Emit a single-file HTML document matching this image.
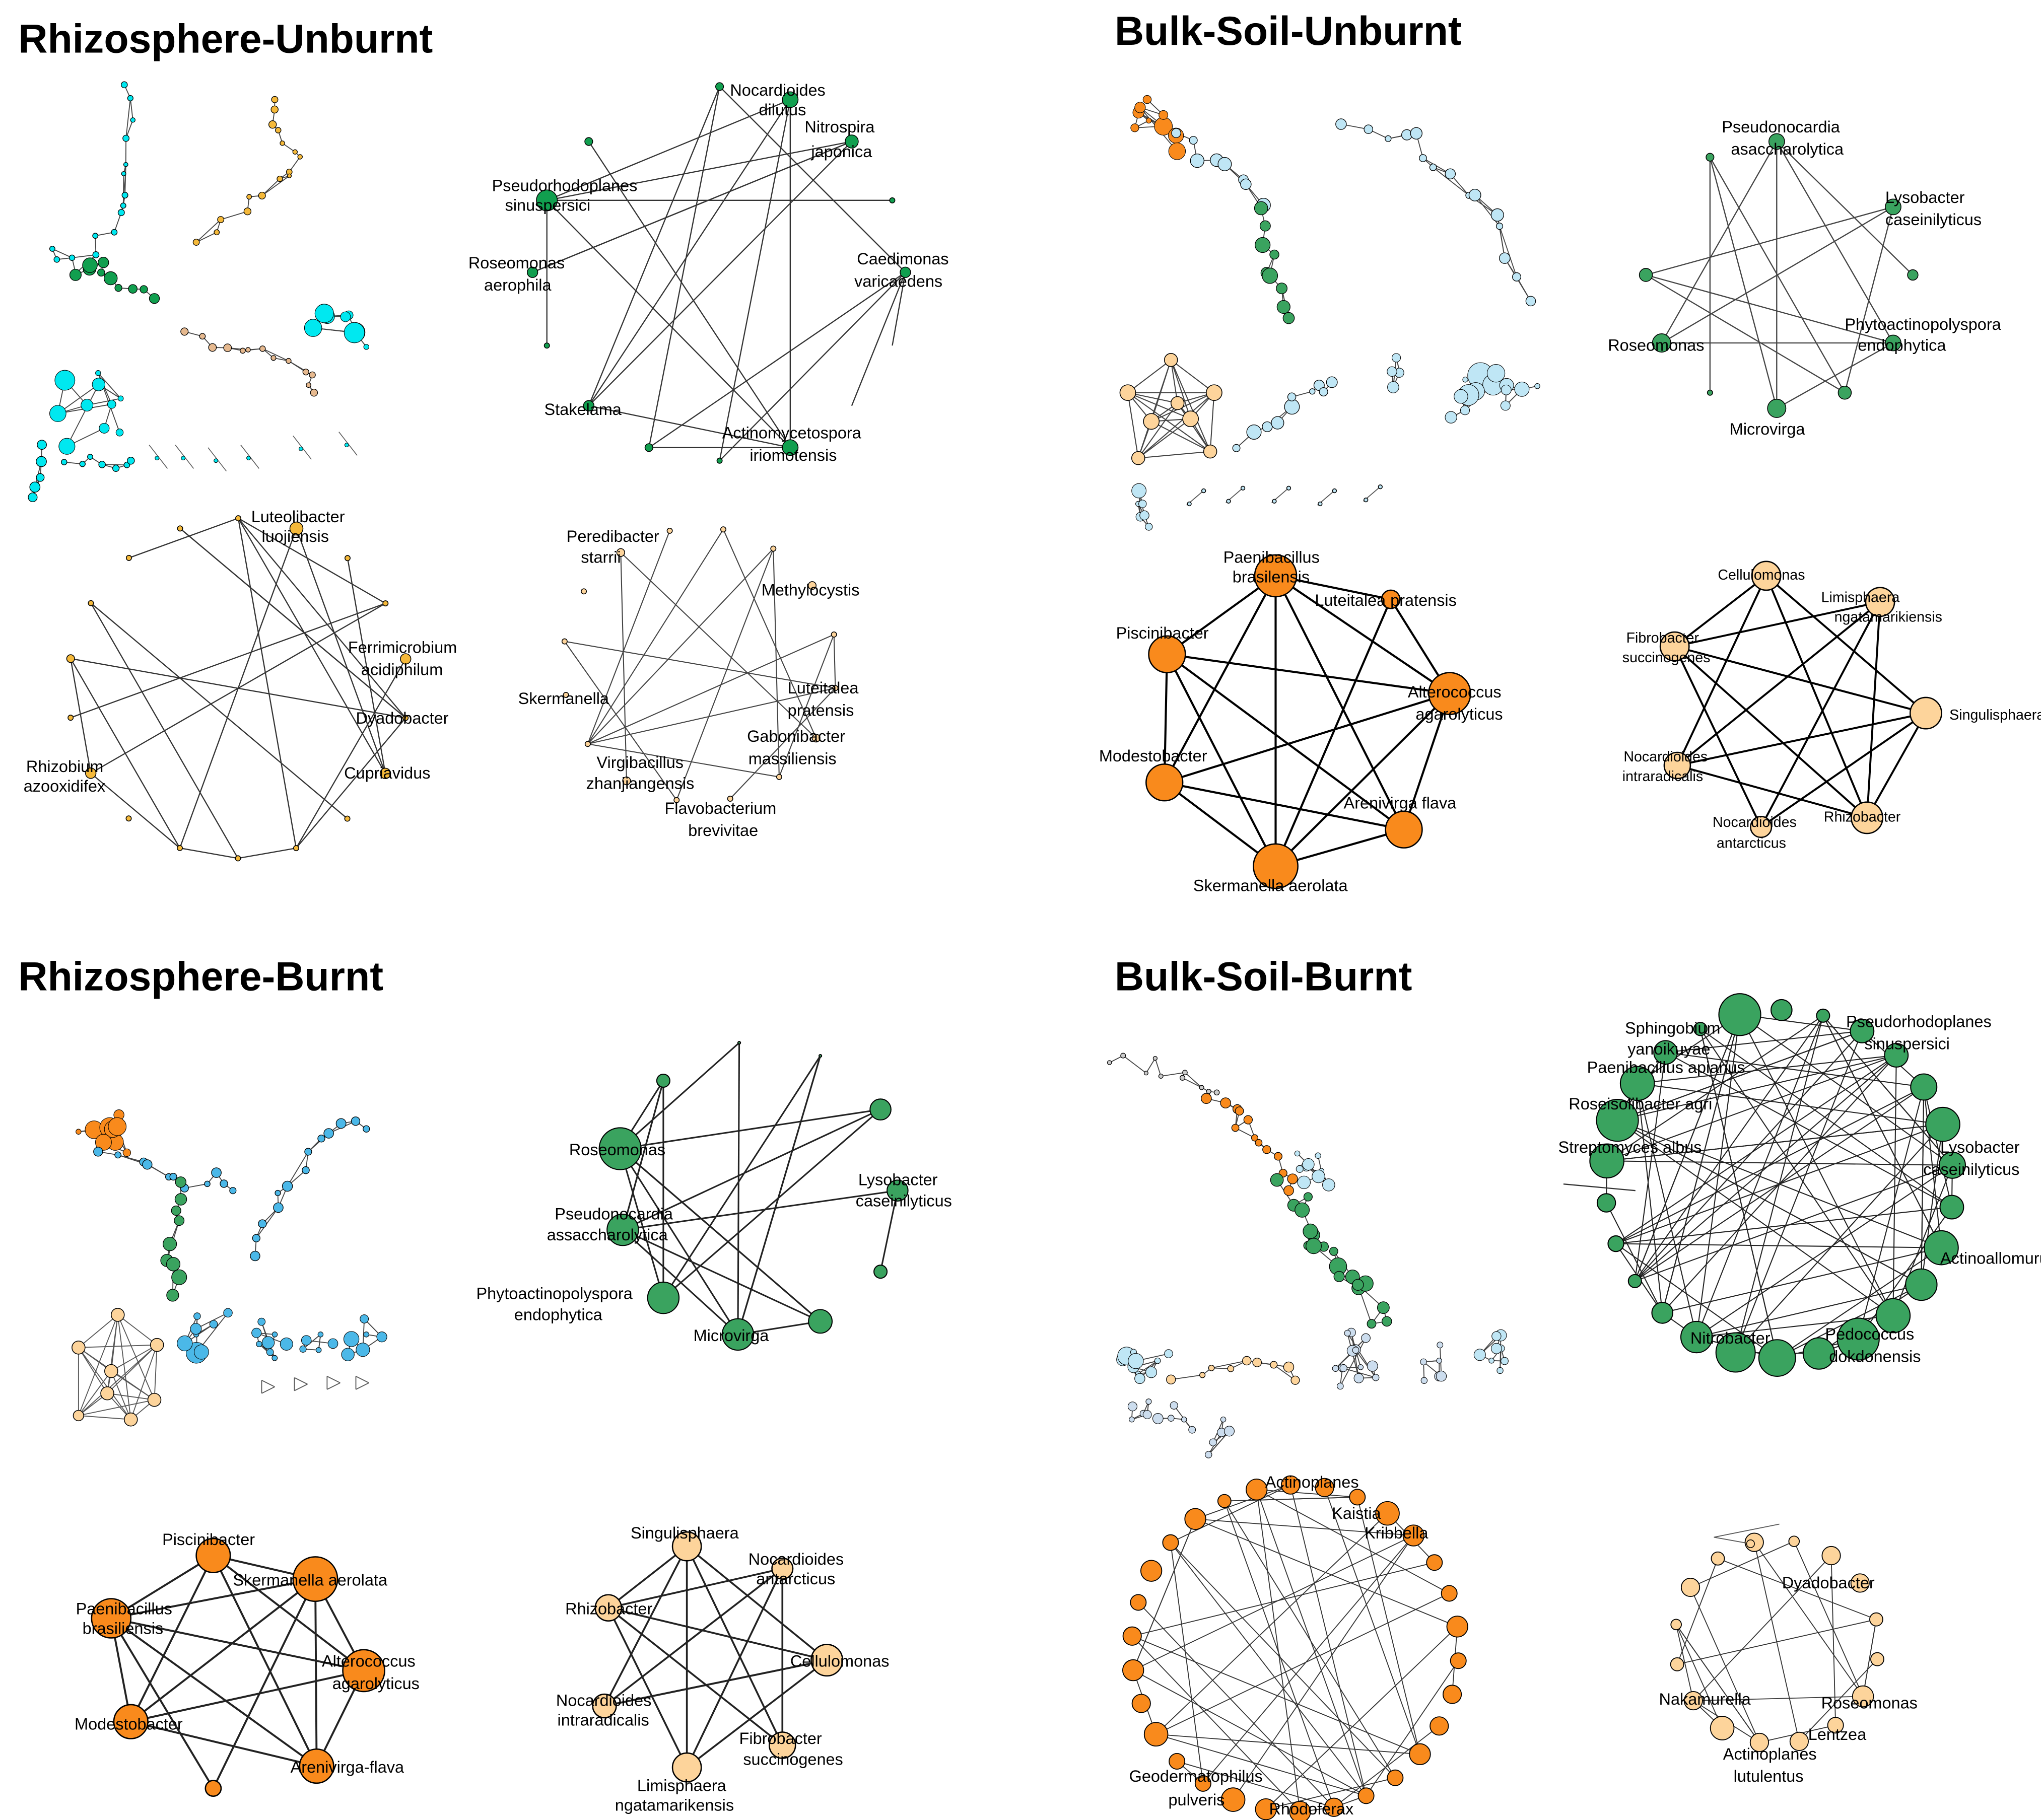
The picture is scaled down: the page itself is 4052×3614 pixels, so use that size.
<!DOCTYPE html>
<html><head><meta charset="utf-8"><style>
html,body{margin:0;padding:0;background:#fff}
svg{display:block}
text{font-family:"Liberation Sans",Arial,sans-serif;font-size:12.5px;fill:#000}
.t{font-size:31px;font-weight:bold}
</style></head><body>
<svg id="s" width="4052" height="3614" viewBox="0 0 1560 1391" xmlns="http://www.w3.org/2000/svg">
<rect width="1560" height="1391" fill="#fff"/>
<g id="e"></g><g id="n"></g>
<g id="lab">
<text class="t" x="14" y="40">Rhizosphere-Unburnt</text>
<text class="t" x="852" y="34">Bulk-Soil-Unburnt</text>
<text class="t" x="14" y="757">Rhizosphere-Burnt</text>
<text class="t" x="852" y="757">Bulk-Soil-Burnt</text>
<text x="558" y="73">Nocardioides</text><text x="580" y="88">dilutus</text>
<text x="615" y="101">Nitrospira</text><text x="620" y="120">japonica</text>
<text x="376" y="146">Pseudorhodoplanes</text><text x="386" y="161">sinuspersici</text>
<text x="358" y="205">Roseomonas</text><text x="370" y="222">aerophila</text>
<text x="655" y="202">Caedimonas</text><text x="653" y="219">varicaedens</text>
<text x="416" y="317">Stakelama</text>
<text x="552" y="335">Actinomycetospora</text><text x="573" y="352">iriomotensis</text>
<text x="192" y="399">Luteolibacter</text><text x="200" y="414">luojiensis</text>
<text x="266" y="499">Ferrimicrobium</text><text x="276" y="516">acidiphilum</text>
<text x="272" y="553">Dyadobacter</text>
<text x="263" y="595">Cupriavidus</text>
<text x="20" y="590">Rhizobium</text><text x="18" y="605">azooxidifex</text>
<text x="433" y="414">Peredibacter</text><text x="444" y="430">starrii</text>
<text x="582" y="455">Methylocystis</text>
<text x="396" y="538">Skermanella</text>
<text x="602" y="530">Luteitalea</text><text x="602" y="547">pratensis</text>
<text x="571" y="567">Gabonibacter</text><text x="572" y="584">massiliensis</text>
<text x="456" y="587">Virgibacillus</text><text x="448" y="603">zhanjiangensis</text>
<text x="508" y="622">Flavobacterium</text><text x="526" y="639">brevivitae</text>
<text x="1316" y="101">Pseudonocardia</text><text x="1323" y="118">asaccharolytica</text>
<text x="1441" y="155">Lysobacter</text><text x="1441" y="172">caseinilyticus</text>
<text x="1410" y="252">Phytoactinopolyspora</text><text x="1420" y="268">endophytica</text>
<text x="1229" y="268">Roseomonas</text>
<text x="1322" y="332">Microvirga</text>
<text x="935" y="430">Paenibacillus</text><text x="942" y="445">brasilensis</text>
<text x="1005" y="463">Luteitalea pratensis</text>
<text x="853" y="488">Piscinibacter</text>
<text x="1076" y="533">Alterococcus</text><text x="1082" y="550">agarolyticus</text>
<text x="840" y="582">Modestobacter</text>
<text x="1027" y="618">Arenivirga flava</text>
<text x="912" y="681">Skermanella aerolata</text>
<text x="1313" y="443" style="font-size:11px">Cellulomonas</text>
<text x="1392" y="460" style="font-size:11px">Limisphaera</text><text x="1402" y="475" style="font-size:11px">ngatamarikiensis</text>
<text x="1243" y="491" style="font-size:11px">Fibrobacter</text><text x="1240" y="506" style="font-size:11px">succinogenes</text>
<text x="1490" y="550" style="font-size:11px">Singulisphaera</text>
<text x="1241" y="582" style="font-size:11px">Nocardioides</text><text x="1240" y="597" style="font-size:11px">intraradicalis</text>
<text x="1394" y="628" style="font-size:11px">Rhizobacter</text>
<text x="1309" y="632" style="font-size:11px">Nocardioides</text><text x="1312" y="648" style="font-size:11px">antarcticus</text>
<text x="435" y="883">Roseomonas</text>
<text x="424" y="932">Pseudonocardia</text><text x="418" y="948">assaccharolytica</text>
<text x="364" y="993">Phytoactinopolyspora</text><text x="393" y="1009">endophytica</text>
<text x="530" y="1025">Microvirga</text>
<text x="656" y="906">Lysobacter</text><text x="654" y="922">caseinilyticus</text>
<text x="124" y="1181">Piscinibacter</text>
<text x="178" y="1212">Skermanella aerolata</text>
<text x="58" y="1234">Paenibacillus</text><text x="63" y="1249">brasiliensis</text>
<text x="246" y="1274">Alterococcus</text><text x="254" y="1291">agarolyticus</text>
<text x="57" y="1322">Modestobacter</text>
<text x="222" y="1355">Arenivirga-flava</text>
<text x="482" y="1176">Singulisphaera</text>
<text x="572" y="1196">Nocardioides</text><text x="578" y="1211">antarcticus</text>
<text x="432" y="1234">Rhizobacter</text>
<text x="604" y="1274">Cellulomonas</text>
<text x="425" y="1304">Nocardioides</text><text x="426" y="1319">intraradicalis</text>
<text x="565" y="1333">Fibrobacter</text><text x="568" y="1349">succinogenes</text>
<text x="487" y="1369">Limisphaera</text><text x="470" y="1384">ngatamarikensis</text>
<text x="1242" y="790">Sphingobium</text><text x="1244" y="806">yanoikuyae</text>
<text x="1411" y="785">Pseudorhodoplanes</text><text x="1425" y="802">sinuspersici</text>
<text x="1213" y="820">Paenibacillus apiarius</text>
<text x="1199" y="848">Roseisolibacter agri</text>
<text x="1191" y="881">Streptomyces albus</text>
<text x="1483" y="881">Lysobacter</text><text x="1470" y="898">caseinilyticus</text>
<text x="1483" y="966">Actinoallomurus</text>
<text x="1292" y="1027">Nitrobacter</text>
<text x="1395" y="1024">Pedococcus</text><text x="1398" y="1041">dokdonensis</text>
<text x="967" y="1137">Actinoplanes</text>
<text x="1018" y="1161">Kaistia</text>
<text x="1043" y="1176">Kribbella</text>
<text x="863" y="1362">Geodermatophilus</text><text x="893" y="1380">pulveris</text>
<text x="970" y="1387">Rhodoferax</text>
<text x="1362" y="1214">Dyadobacter</text>
<text x="1268" y="1303">Nakamurella</text>
<text x="1392" y="1306">Roseomonas</text>
<text x="1382" y="1330">Lentzea</text>
<text x="1317" y="1345">Actinoplanes</text><text x="1325" y="1362">lutulentus</text>
</g>
</svg>
<script>
var E=document.getElementById('e'),N=document.getElementById('n'),ns="http://www.w3.org/2000/svg";
function L(a,b,c,d,w,col){var l=document.createElementNS(ns,'line');l.setAttribute('x1',a);l.setAttribute('y1',b);l.setAttribute('x2',c);l.setAttribute('y2',d);l.setAttribute('stroke',col||'#555');l.setAttribute('stroke-width',w||0.8);E.appendChild(l);}
function C(x,y,r,f,sw){var c=document.createElementNS(ns,'circle');c.setAttribute('cx',x);c.setAttribute('cy',y);c.setAttribute('r',r);c.setAttribute('fill',f);c.setAttribute('stroke','#000');c.setAttribute('stroke-width',sw||0.6);N.appendChild(c);}
var seed=7;function R(){seed=(seed*16807)%2147483647;return seed/2147483647;}
function net(nodes,edges,col,w,ec,sw){edges.forEach(function(e){var a=nodes[e[0]],b=nodes[e[1]];L(a[0],a[1],b[0],b[1],w,ec);});nodes.forEach(function(n){if(n[2]>0)C(n[0],n[1],n[2],col,sw);});}
function ring(cx,cy,R0,sizes,start,col,ne,w,ec,sw){var n=sizes.length,nodes=[];for(var i=0;i<n;i++){var a=start+i*2*Math.PI/n;nodes.push([cx+R0*Math.cos(a),cy+R0*Math.sin(a),sizes[i]]);}var ed=[];for(var k=0;k<ne;k++){var i1=Math.floor(R()*n),i2=Math.floor(R()*n);if(i1!=i2)ed.push([i1,i2]);}net(nodes,ed,col,w,ec,sw);return nodes;}
function all(nodes){var e=[];for(var i=0;i<nodes.length;i++)for(var j=i+1;j<nodes.length;j++)e.push([i,j]);return e;}
function clus(cx,cy,n,sp,col,rmax,extra){var nodes=[[cx,cy,rmax*R()+2]];for(var i=1;i<n;i++){var p=nodes[Math.floor(R()*nodes.length)];var a=R()*6.283;nodes.push([p[0]+sp*Math.cos(a),p[1]+sp*Math.sin(a),2+R()*rmax]);}var e=[];for(var i=1;i<n;i++){e.push([i,Math.max(0,i-1-Math.floor(R()*2))]);}for(var k=0;k<extra;k++){e.push([Math.floor(R()*n),Math.floor(R()*n)]);}net(nodes,e,col,0.7,'#444',0.4);}
/* chain: waypoints, nodes per segment, jitter, color, rmin, rmax */
function chain(wp,per,jit,col,rmin,rmax){var nodes=[];for(var s=0;s<wp.length-1;s++){for(var k=0;k<per;k++){var t=k/per;nodes.push([wp[s][0]+(wp[s+1][0]-wp[s][0])*t+(R()-0.5)*jit,wp[s][1]+(wp[s+1][1]-wp[s][1])*t+(R()-0.5)*jit,rmin+R()*(rmax-rmin)]);}}var l=wp[wp.length-1];nodes.push([l[0],l[1],rmin+R()*(rmax-rmin)]);var e=[];for(var i=1;i<nodes.length;i++){e.push([i,i-1]);if(i>2&&R()<0.35)e.push([i,i-2]);}net(nodes,e,col,0.7,'#444',0.5);}
var DG='#119f4f',GR='#3aa35f',OR='#f98a1c',BE='#fdd49b',CY='#00e8f0',LB='#bfe6f5',BL='#4bb8e8',TN='#e6b98f',YO='#f5b93a';
/* A green */
var ag=[[550,66,3],[604,76,6],[651,108,5],[682,153,2],[692,208,4],[450,108,3],[418,153,8],[407,208,4],[418,264,2],[450,310,4],[496,342,3],[550,352,2],[604,342,6],[651,310,0],[682,264,0]];
net(ag,[[0,9],[0,10],[1,9],[1,11],[1,6],[2,6],[2,7],[3,6],[4,10],[4,11],[5,12],[6,12],[6,8],[6,3],[7,2],[9,12],[10,12],[0,4],[1,12],[2,9],[4,13],[4,14]],DG,0.9,'#333');
seed=11;ring(182,526,130,[2,5,2,2,4,2,4,2,2,2,2,2,4,2,3,2,2,2],-1.57,YO,22,0.9,'#333');
seed=5;ring(535,508,105,[2,2,3,2,2,3,2,2,2,3,2,2,2,2,3,2],-1.4,BE,18,0.8,'#444');
/* A small clusters */
seed=21;chain([[100,62],[95,110],[100,150],[85,175],[60,205],[40,190]],3,10,CY,1.5,2.5);
chain([[60,205],[75,200],[95,215],[118,228]],3,10,DG,2,6);
seed=22;chain([[215,72],[212,100],[230,120],[215,140],[185,160],[150,185]],3,10,YO,1.5,3);
seed=24;clus(75,285,10,26,CY,6,5);seed=25;chain([[145,255],[175,265],[200,265],[235,285],[240,300]],3,8,TN,1.5,3);seed=26;clus(280,265,8,14,CY,6,5);
chain([[32,340],[30,365],[25,380]],2,2,CY,3,4);seed=28;chain([[52,352],[70,352],[90,355],[100,352]],2,6,CY,2,3);
[[120,350],[140,350],[165,352],[190,350],[230,343],[265,340]].forEach(function(p){L(p[0]-6,p[1]-10,p[0]+8,p[1]+8,0.6,'#555');C(p[0],p[1],1.5,CY,0.4);});
/* B green */
var bg=[[1358,108,6],[1447,158,6],[1462,210,4],[1447,262,6],[1410,300,5],[1358,312,7],[1307,300,2],[1270,262,7],[1258,210,5],[1307,120,3]];
net(bg,[[0,7],[0,5],[0,3],[9,5],[9,4],[9,6],[8,3],[8,1],[8,4],[7,3],[7,1],[0,2],[5,3],[1,4]],GR,0.9,'#444');
var bo=[[975,440,16],[1063,458,7],[1108,530,16],[1073,634,14],[975,662,17],[890,598,14],[892,500,14]];
net(bo,[[0,1],[0,2],[0,3],[0,4],[0,5],[0,6],[1,2],[1,4],[2,6],[2,5],[2,4],[2,3],[3,4],[3,5],[3,6],[4,5],[4,6],[5,6]],OR,1.6,'#000',1);
var bb=[[1350,440,11],[1437,460,11],[1472,545,12],[1427,625,12],[1346,632,8],[1282,585,10],[1280,494,11]];
net(bb,[[0,5],[0,3],[0,2],[0,6],[1,6],[1,4],[1,3],[1,5],[2,6],[2,3],[2,5],[3,5],[3,6],[4,6],[4,2]],BE,1.5,'#000',1);
/* B clusters */
seed=31;clus(878,92,9,12,OR,5,8);
seed=32;chain([[905,105],[915,120],[935,130],[955,145],[965,160]],2,12,LB,3,6);
chain([[965,160],[968,185],[972,205],[975,220],[985,243]],2,10,GR,3,7);
seed=34;chain([[1030,95],[1060,110],[1085,105],[1100,130],[1120,145],[1140,160],[1150,195],[1170,230]],2,10,LB,2,5);
var bc=[[862,300,6],[895,275,5],[928,300,6],[910,320,6],[880,322,6],[870,350,5],[925,345,5],[900,308,5]];net(bc,all(bc),BE,0.8,'#444',0.6);
seed=36;chain([[950,340],[975,320],[1000,300],[1018,292]],3,10,LB,2,6);seed=37;clus(1120,290,9,12,LB,8,5);seed=38;clus(1070,285,5,12,LB,3,3);seed=39;clus(1175,295,5,12,LB,4,3);seed=40;clus(870,385,6,10,LB,4,4);
[[915,380],[945,378],[980,378],[1015,380],[1050,377]].forEach(function(p){L(p[0]-8,p[1]+6,p[0]+6,p[1]-6,0.7);C(p[0]-6,p[1]+5,1.5,LB);C(p[0]+5,p[1]-5,1.5,LB);});
/* C */
var cg=[[474,878,16],[476,940,12],[507,992,12],[564,1020,12],[627,1010,9],[673,972,5],[686,910,8],[673,848,8],[627,807,1],[565,797,1],[507,826,5]];
net(cg,[[0,10],[0,9],[0,3],[0,4],[0,7],[1,10],[1,6],[1,3],[1,7],[2,10],[2,0],[2,8],[2,7],[3,9],[3,8],[3,4],[4,0],[6,5],[8,3],[10,1],[1,4]],GR,1.2,'#222',0.8);
var co=[[163,1189,13],[241,1207,17],[278,1277,16],[242,1350,13],[163,1367,6],[100,1316,13],[85,1237,15]];
net(co,[[0,1],[0,6],[0,5],[0,3],[1,6],[1,5],[1,4],[1,2],[2,6],[2,5],[2,3],[3,6],[3,5],[4,6],[5,6],[0,2],[1,3]],OR,1.5,'#222',1);
var cb=[[525,1182,11],[598,1199,8],[632,1269,12],[598,1334,10],[525,1351,11],[462,1304,9],[465,1229,10]];
net(cb,[[0,5],[0,4],[0,3],[0,6],[1,5],[1,3],[1,6],[2,6],[2,5],[2,4],[3,6],[4,6],[4,1],[5,2],[0,2]],BE,1.4,'#222',1);
seed=41;clus(60,865,10,12,OR,6,6);
seed=42;chain([[80,880],[105,888],[125,900],[145,905],[165,900],[178,910]],2,10,BL,2,4);
chain([[140,905],[140,925],[135,945],[130,970],[132,990]],2,12,GR,3,7);
seed=44;chain([[285,860],[265,855],[245,870],[230,890],[215,915],[205,935],[195,960]],2,10,BL,2,4);
var cbb=[[60,1030,5],[90,1005,5],[120,1028,5],[118,1070,5],[85,1048,5],[82,1065,5],[60,1082,4],[100,1085,5]];net(cbb,all(cbb),BE,0.7,'#555',0.6);
seed=46;clus(150,1020,8,14,BL,6,4);seed=47;clus(210,1020,8,14,BL,3,3);seed=48;clus(245,1020,5,12,BL,2,2);seed=49;clus(280,1020,6,12,BL,4,3);
[[200,1060],[225,1058],[250,1057],[272,1057]].forEach(function(p){L(p[0],p[1]-5,p[0]+10,p[1],0.7);L(p[0],p[1]+5,p[0]+10,p[1],0.7);L(p[0],p[1]-5,p[0],p[1]+5,0.7);});
/* D */
seed=51;ring(1360,905,133,[16,8,5,9,9,10,13,10,9,13,12,13,16,12,14,15,12,8,5,6,7,13,16,13,9,5],-1.8,GR,90,0.8,'#222',0.8);
L(1195,905,1250,910,0.9,'#333');
seed=61;ring(990,1260,125,[7,7,6,9,8,6,6,8,6,7,7,8,6,6,7,8,8,9,6,6,9,7,8,7,6,8,6,8,5,8],-1.6,OR,46,0.7,'#333',0.7);
seed=71;ring(1358,1255,78,[4,7,7,5,5,8,6,7,7,9,7,5,4,7,5,7],-1.4,BE,22,0.7,'#333',0.7);
L(1310,1175,1360,1165,0.7);L(1310,1175,1338,1180,0.7);C(1338,1180,3,BE);
seed=81;chain([[855,810],[880,815],[910,825],[930,835]],3,14,'#ccc',1.5,2);
seed=82;chain([[930,835],[945,850],[960,870],[975,890],[985,910]],3,16,OR,2,4);
seed=83;clus(1010,895,9,12,LB,3,4);
seed=84;chain([[985,910],[995,930],[1005,950],[1015,960],[1030,975],[1045,990],[1060,1010]],3,18,GR,3,7);
seed=86;clus(870,1050,10,10,LB,5,6);seed=87;chain([[900,1055],[930,1050],[955,1045],[975,1040],[990,1055]],2,10,BE,2,4);seed=88;clus(1040,1045,14,14,'#cde',3,6);seed=89;clus(1100,1040,6,12,'#cde',2,2);seed=90;clus(1140,1040,8,10,LB,3,4);
seed=91;clus(865,1085,5,10,'#cde',2,3);seed=92;clus(905,1085,5,10,'#cde',2,3);seed=93;clus(935,1085,5,10,'#cde',2,3);
</script>
</body></html>
